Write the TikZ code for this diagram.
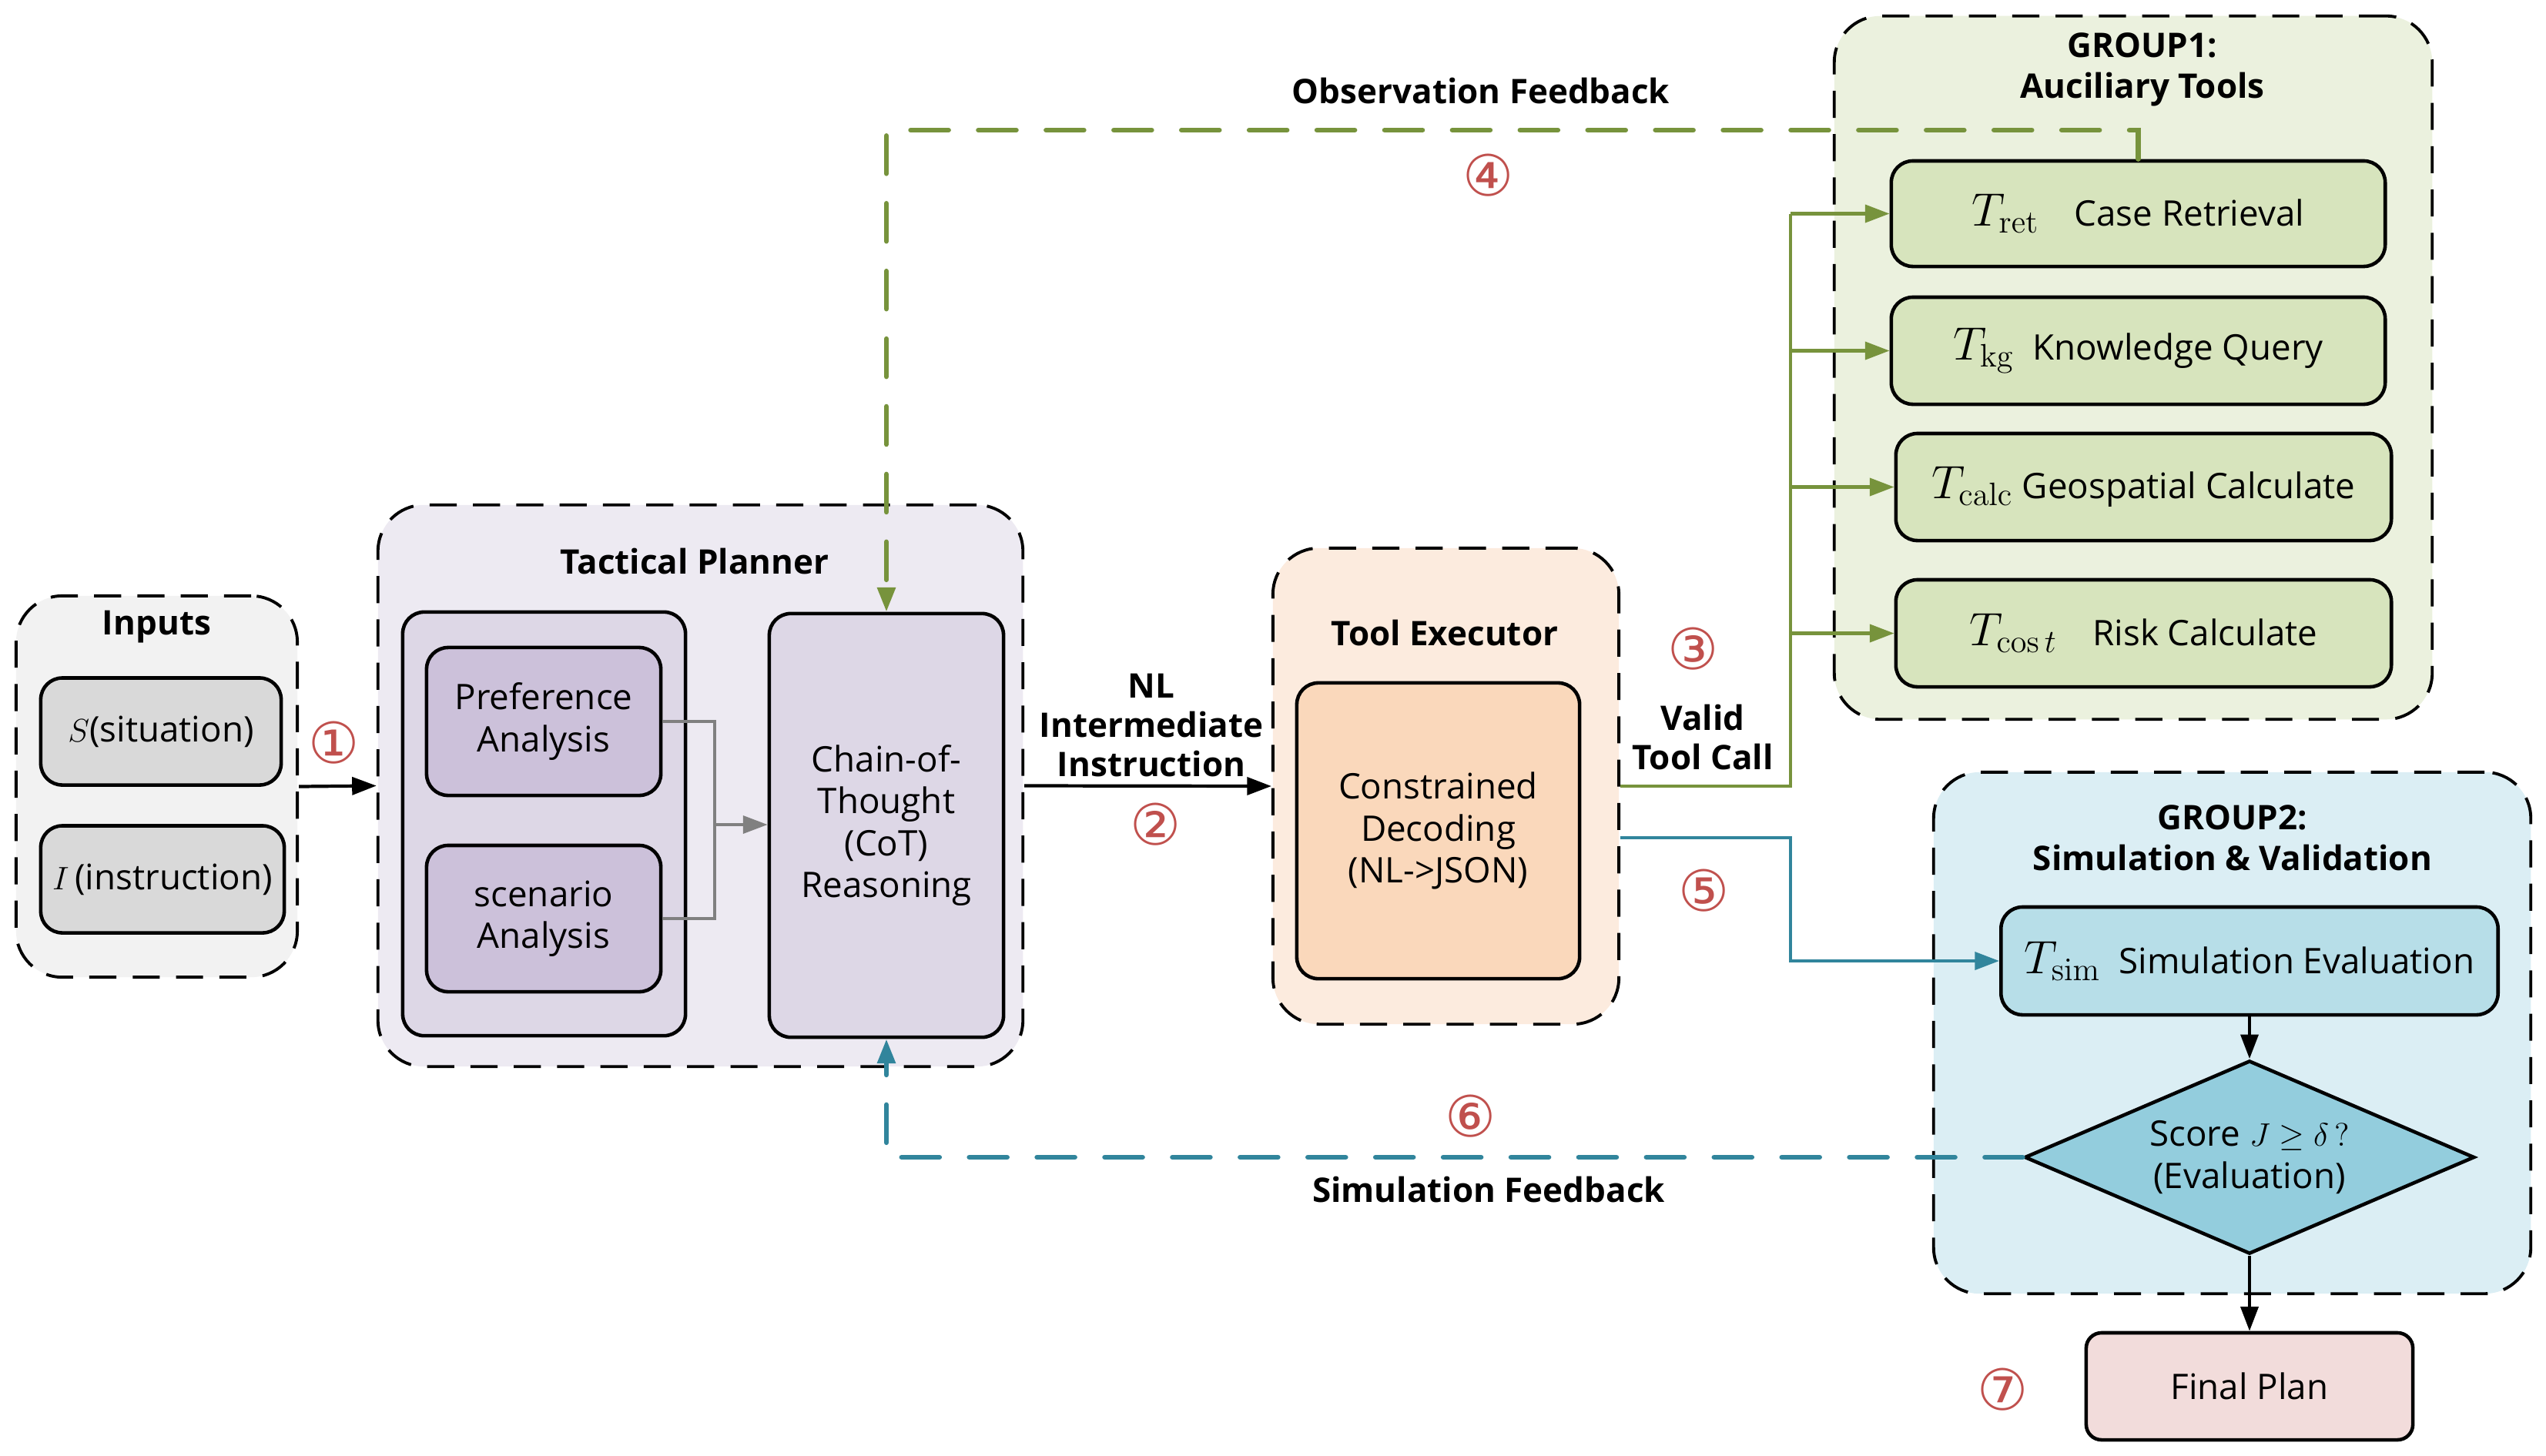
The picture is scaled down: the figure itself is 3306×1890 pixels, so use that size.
\documentclass[tikz,border=0pt]{standalone}
\usepackage[no-math]{fontspec}
\setmainfont{Open Sans}
\newfontfamily\circfont{DejaVu Sans}
\usepackage{amsmath}
\usetikzlibrary{shapes.geometric, arrows.meta, positioning, calc}
\definecolor{inputbg}{HTML}{F2F2F2}
\definecolor{inputbox}{HTML}{D9D9D9}
\definecolor{plannerbg}{HTML}{EDEAF2}
\definecolor{plannerbox}{HTML}{DDD7E6}
\definecolor{analysisbox}{HTML}{CCC1DA}
\definecolor{execbg}{HTML}{FCEBDE}
\definecolor{execbox}{HTML}{FAD8BB}
\definecolor{toolbg}{HTML}{EBF1DE}
\definecolor{toolbox}{HTML}{D7E4BD}
\definecolor{simbg}{HTML}{DBEEF4}
\definecolor{simbox}{HTML}{B7DEE8}
\definecolor{decbox}{HTML}{93CDDD}
\definecolor{planbox}{HTML}{F2DCDB}
\definecolor{obscolor}{HTML}{77933C}
\definecolor{simcolor}{HTML}{31859C}
\definecolor{stepcolor}{HTML}{C0504D}
\newcommand{\toolT}[1]{{\fontsize{18}{18}\selectfont$T_{#1}$}}

\begin{document}
\begin{tikzpicture}[
    x=0.01cm, y=-0.01cm,
    group/.style={rectangle, draw, line width=1.1pt, dash pattern=on 10pt off 6pt, rounded corners=0.6cm},
    grouptitle/.style={font=\fontsize{12.5}{15}\selectfont\bfseries, align=center},
    box/.style={rectangle, draw, line width=1.3pt, rounded corners=0.28cm, align=center, font=\fontsize{13}{15.5}\selectfont},
    decision/.style={diamond, draw, line width=1.3pt, fill=decbox, aspect=2.33, inner sep=0pt, minimum width=5.84cm, minimum height=2.51cm, align=center, font=\fontsize{13}{15.5}\selectfont},
    flowlbl/.style={font=\fontsize{12.5}{14.5}\selectfont\bfseries, align=center},
    stepnum/.style={font=\circfont\fontsize{21}{21}\selectfont, text=stepcolor},
    conn/.style={line width=1.2pt, -{Triangle[length=9pt, width=6.5pt]}},
    gline/.style={line width=1.2pt, obscolor},
    bline/.style={line width=1.2pt, simcolor},
    fbdash/.style={line width=1.8pt, dash pattern=on 14pt off 11pt, line cap=round},
    tip/.style={-{Triangle[length=9pt, width=6.5pt]}}
]
\useasboundingbox (0,0) rectangle (3306,1890);

% -- INPUTS --
\node[group, fill=inputbg, minimum width=3.65cm, minimum height=4.95cm] (inputs) at (203.5,1021.5) {};
\node[grouptitle] (inputs-t) at (203.5,814) {Inputs};
\node[box, fill=inputbox, minimum width=3.12cm, minimum height=1.39cm] (sit) at (209,950) {$S$(situation)};
\node[box, fill=inputbox, minimum width=3.16cm, minimum height=1.39cm] (ins) at (211,1142) {$I$\,(instruction)};

% -- TACTICAL PLANNER --
\node[group, fill=plannerbg, minimum width=8.37cm, minimum height=7.29cm] (planner) at (909.5,1020.5) {};
\node[grouptitle] (planner-t) at (902,729) {Tactical Planner};
\node[box, fill=plannerbox, minimum width=3.67cm, minimum height=5.5cm] (analysis) at (706.5,1070) {};
\node[box, fill=analysisbox, minimum width=3.04cm, minimum height=1.92cm] (pref) at (706,937) {Preference\\Analysis};
\node[box, fill=analysisbox, minimum width=3.04cm, minimum height=1.9cm] (scen) at (706,1193) {scenario\\Analysis};
\node[box, fill=plannerbox, minimum width=3.04cm, minimum height=5.5cm] (cot) at (1151,1072) {Chain-of-\\Thought\\(CoT)\\Reasoning};

\coordinate (merge) at (928,1071);
\draw[gray, line width=1pt] (pref.east) -| (merge) |- (scen.east);
\draw[gray, line width=1pt, tip] (merge) -- (cot.west |- merge);

\draw[conn] (inputs.east) -- (planner.west);
\node[stepnum] (s1) at (434,965) {①};

% -- TOOL EXECUTOR --
\node[group, fill=execbg, minimum width=4.49cm, minimum height=6.18cm] (exec) at (1877.5,1021) {};
\node[grouptitle] (exec-t) at (1876,822) {Tool Executor};
\node[box, fill=execbox, minimum width=3.67cm, minimum height=3.84cm] (decode) at (1867.5,1079) {Constrained\\Decoding\\(NL->JSON)};

\draw[conn] (planner.east) -- (exec.west);
\node[flowlbl] (nl) at (1495,942) {NL\\Intermediate\\Instruction};
\node[stepnum] (s2) at (1501,1071) {②};

% -- GROUP1: tools --
\node[group, fill=toolbg, minimum width=7.76cm, minimum height=9.13cm] (group1) at (2770,477.5) {};
\node[grouptitle] (group1-t) at (2782,90) {GROUP1:\\Auciliary Tools};
\node[box, fill=toolbox, minimum width=6.41cm, minimum height=1.37cm] (ret) at (2776.5,277.5) {\toolT{\mathrm{ret}}\quad Case Retrieval};
\node[box, fill=toolbox, minimum width=6.41cm, minimum height=1.39cm] (kg) at (2776.5,455.5) {\toolT{\mathrm{kg}}\ \ Knowledge Query};
\node[box, fill=toolbox, minimum width=6.43cm, minimum height=1.39cm] (calc) at (2783.5,632.5) {\toolT{\mathrm{calc}}\ Geospatial Calculate};
\node[box, fill=toolbox, minimum width=6.43cm, minimum height=1.39cm] (cost) at (2783.5,822.5) {\toolT{\cos t}\quad Risk Calculate};

\coordinate (bus) at (2325,0);
\draw[gline] (exec.east) -- (exec.east -| bus) -- (bus |- ret.west);
\foreach \t in {ret,kg,calc,cost}
    \draw[gline, tip] (bus |- \t.west) -- (\t.west);
\node[stepnum] (s3) at (2199,843) {③};
\node[flowlbl] (valid) at (2211,957) {Valid\\Tool Call};

% observation feedback
\coordinate (obs) at (0,169);
\draw[gline, fbdash, tip] (ret.north) -- (ret.north |- obs) -| (cot.north);
\node[flowlbl] (obs-l) at (1923,118) {Observation Feedback};
\node[stepnum] (s4) at (1933,228) {④};

% -- GROUP2: simulation --
\node[group, fill=simbg, minimum width=7.75cm, minimum height=6.77cm] (group2) at (2898.5,1341.5) {};
\node[grouptitle] (group2-t) at (2899,1088) {GROUP2:\\Simulation \& Validation};
\node[box, fill=simbox, minimum width=6.45cm, minimum height=1.4cm] (tsim) at (2921,1248) {\toolT{\mathrm{sim}}\ \ Simulation Evaluation};
\node[decision] (score) at (2921,1503) {Score $J \geq \delta\,?$\\(Evaluation)};
\node[box, fill=planbox, minimum width=4.24cm, minimum height=1.39cm, rounded corners=0.2cm] (final) at (2921,1800.5) {Final Plan};

\draw[conn] (tsim) -- (score);
\draw[conn] (score) -- (final);
\node[stepnum] (s7) at (2601,1805) {⑦};

\draw[bline, tip] ($(exec.east)+(0,67)$) -| (bus |- tsim.west) -- (tsim.west);
\node[stepnum] (s5) at (2213,1157) {⑤};

% simulation feedback
\draw[bline, fbdash, tip] (score.west) -| (cot.south);
\node[stepnum] (s6) at (1910,1450) {⑥};
\node[flowlbl] (sim-l) at (1933,1545) {Simulation Feedback};

\end{tikzpicture}
\end{document}
